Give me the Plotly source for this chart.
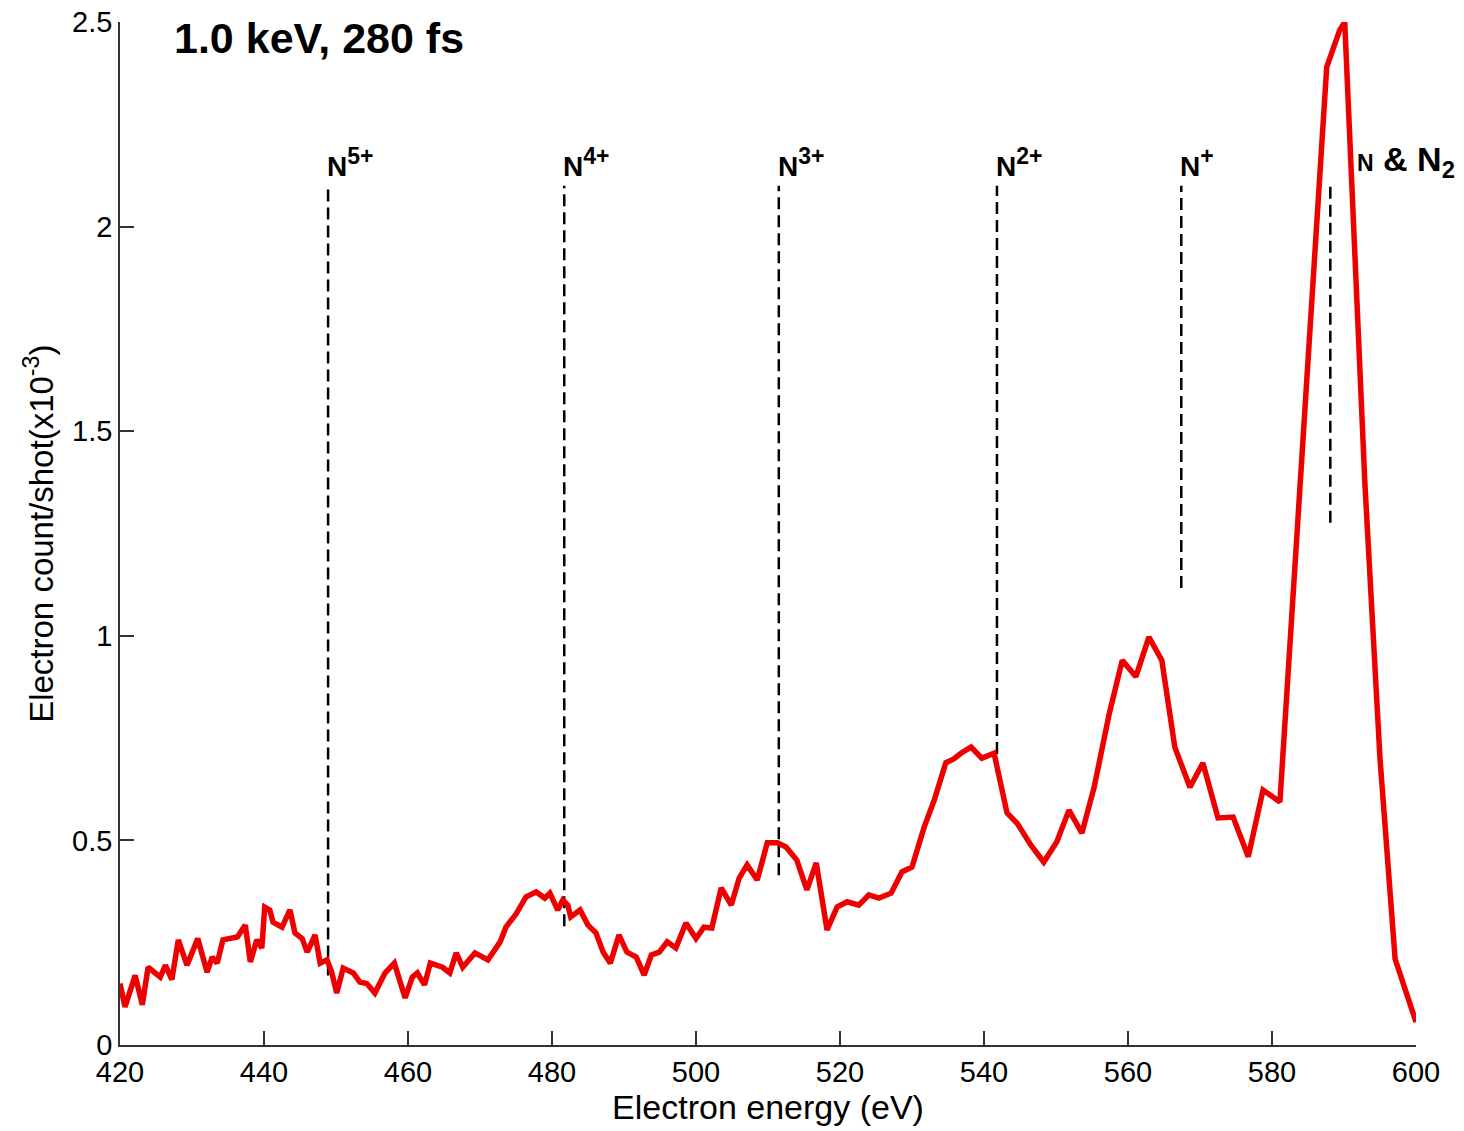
import plotly.graph_objects as go

# Spectrum data (electron energy in eV, count/shot x10^-3)
energy = [420.0, 420.7, 422.1, 423.1, 423.9, 425.6, 426.3, 427.2, 428.1, 429.3,
          430.8, 432.1, 432.8, 433.5, 434.3, 436.3, 437.4, 438.1, 439.0, 439.7,
          440.1, 440.8, 441.25, 442.5, 443.6, 444.3, 445.3, 446.0, 447.1, 447.8,
          448.75, 449.4, 450.1, 451.0, 452.4, 453.3, 454.3, 455.4, 456.8, 458.1,
          459.6, 460.6, 461.3, 462.3, 463.1, 464.8, 465.8, 466.7, 467.6, 469.3,
          471.1, 471.8, 472.8, 473.6, 475.0, 476.4, 477.8, 479.0, 479.7, 480.8,
          481.5, 482.2, 482.6, 483.9, 485.0, 486.1, 487.1, 488.1, 489.3, 490.4,
          491.7, 492.8, 493.8, 494.9, 496.0, 497.2, 498.6, 500.0, 501.1, 502.2,
          503.5, 504.9, 506.0, 507.1, 508.5, 509.9, 511.3, 512.5, 514.0, 515.4,
          516.7, 518.2, 519.6, 521.0, 522.6, 523.3, 524.0, 525.4, 527.1, 528.6,
          530.0, 531.7, 533.1, 534.7, 535.8, 536.8, 538.2, 539.7, 541.4, 543.2,
          544.6, 546.5, 548.3, 550.1, 551.8, 553.6, 555.3, 557.4, 559.2, 561.1,
          562.9, 564.7, 566.5, 568.6, 570.4, 572.5, 574.6, 576.7, 578.75, 581.1,
          587.6, 589.4, 590.1, 592.9, 595.0, 597.1, 600.0]
counts = [0.15, 0.093, 0.17, 0.098, 0.19, 0.166, 0.195, 0.16, 0.257, 0.195,
          0.26, 0.178, 0.215, 0.20, 0.257, 0.264, 0.293, 0.203, 0.257, 0.237,
          0.337, 0.33, 0.30, 0.288, 0.33, 0.274, 0.26, 0.227, 0.269, 0.20,
          0.208, 0.178, 0.127, 0.188, 0.176, 0.154, 0.15, 0.127, 0.176, 0.20,
          0.115, 0.166, 0.176, 0.147, 0.20, 0.19, 0.176, 0.225, 0.19, 0.225,
          0.208, 0.227, 0.252, 0.288, 0.32, 0.362, 0.374, 0.359, 0.371, 0.33,
          0.354, 0.342, 0.313, 0.33, 0.293, 0.274, 0.227, 0.20, 0.269, 0.227,
          0.215, 0.171, 0.22, 0.227, 0.252, 0.237, 0.298, 0.26, 0.288, 0.286,
          0.384, 0.342, 0.408, 0.44, 0.403, 0.494, 0.494, 0.484, 0.452, 0.379,
          0.445, 0.281, 0.337, 0.35, 0.342, 0.354, 0.367, 0.359, 0.371, 0.423,
          0.435, 0.533, 0.599, 0.69, 0.699, 0.713, 0.728, 0.701, 0.713, 0.567,
          0.542, 0.489, 0.447, 0.496, 0.574, 0.518, 0.63, 0.81, 0.94, 0.90,
          0.997, 0.94, 0.728, 0.63, 0.689, 0.555, 0.557, 0.46, 0.623, 0.594,
          2.39, 2.48, 2.5, 1.373, 0.70, 0.21, 0.056]

# Marker lines for charge states
marker_energy = [448.9, 481.7, 511.5, 541.8, 567.4, 588.1]
marker_top = [2.10, 2.10, 2.10, 2.10, 2.10, 2.11]
marker_bottom = [0.17, 0.29, 0.415, 0.667, 1.117, 1.276]
marker_base = ["N", "N", "N", "N", "N"]
marker_charge = ["5+", "4+", "3+", "2+", "+"]

x_ticks = [420, 440, 460, 480, 500, 520, 540, 560, 580, 600]
y_ticks = [0, 0.5, 1, 1.5, 2, 2.5]
y_tick_text = ["0", "0.5", "1", "1.5", "2", "2.5"]

FONT = "Arial, Liberation Sans, sans-serif"

fig = go.Figure()

for xe, yt, yb in zip(marker_energy, marker_top, marker_bottom):
    fig.add_trace(go.Scatter(x=[xe, xe], y=[yb, yt], mode="lines",
                             line=dict(color="black", width=2.5, dash="12px,6px"),
                             hoverinfo="skip", showlegend=False))

fig.add_trace(go.Scatter(x=energy, y=counts, mode="lines",
                         line=dict(color="#ee0000", width=5.5),
                         showlegend=False))

for xe, base, chg in zip(marker_energy[:5], marker_base, marker_charge):
    fig.add_annotation(x=xe, y=2.1, xref="x", yref="y",
                       text="<b>" + base + "<sup><span style='font-size:23px'>" + chg
                            + "</span></sup></b>",
                       showarrow=False, xanchor="left", yanchor="bottom",
                       xshift=-3, yshift=2,
                       font=dict(family=FONT, size=28, color="black"))

fig.add_annotation(x=591.5, y=2.16, xref="x", yref="y",
                   text="<b><span style='font-size:23px'>N</span> &amp; N<sub>2</sub></b>",
                   showarrow=False, xanchor="left", yanchor="middle",
                   font=dict(family=FONT, size=34, color="black"))

fig.add_annotation(x=0.04, y=0.984, xref="paper", yref="paper",
                   text="<b>1.0 keV, 280 fs</b>", showarrow=False,
                   xanchor="left", yanchor="middle",
                   font=dict(family=FONT, size=43, color="black"))

# y-axis title placed as rotated text to match the reference position
fig.add_annotation(x=-0.063, y=0.5, xref="paper", yref="paper",
                   text="Electron count/shot(x10<sup>-3</sup>)", showarrow=False,
                   textangle=-90, xanchor="center", yanchor="middle",
                   font=dict(family=FONT, size=33, color="black"))

fig.update_layout(
    width=1464, height=1131,
    margin=dict(l=120, r=48, t=22, b=86, autoexpand=False),
    plot_bgcolor="white", paper_bgcolor="white",
    font=dict(family=FONT, size=29, color="black"),
    xaxis=dict(range=[420, 600], tickvals=x_ticks, ticks="inside", ticklen=14,
               tickwidth=1.5, tickcolor="#333", showline=True, linecolor="#333",
               linewidth=1.5, showgrid=False, zeroline=False, mirror=False,
               tickfont=dict(size=29),
               title=dict(text="Electron energy (eV)", font=dict(size=34), standoff=8)),
    yaxis=dict(range=[0, 2.5], tickvals=y_ticks, ticktext=y_tick_text, ticks="inside",
               ticklen=14, tickwidth=1.5, tickcolor="#333", showline=True,
               linecolor="#333", linewidth=1.5, showgrid=False, zeroline=False,
               mirror=False, tickfont=dict(size=29)),
)

fig.write_html("out.html")
